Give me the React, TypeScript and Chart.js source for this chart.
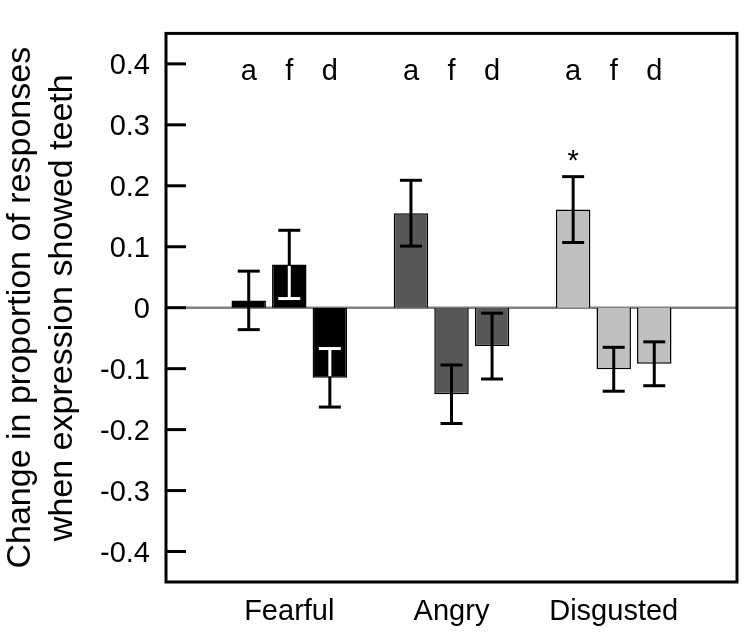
import React, { useEffect, useRef } from 'react';
import { Chart, registerables } from 'chart.js';

Chart.register(...registerables);

// ---- data ----
const categories = ['Fearful', 'Angry', 'Disgusted'];
const categoryX = [1, 2, 3];
const seriesKeys = ['a', 'f', 'd'];
const aValues = [0.012, 0.155, 0.161];
const aErrors = [0.048, 0.054, 0.054];
const fValues = [0.071, -0.142, -0.101];
const fErrors = [0.056, 0.048, 0.036];
const dValues = [-0.115, -0.063, -0.092];
const dErrors = [0.048, 0.054, 0.036];
const aMarks = ['', '', '*'];
const yTicks = [0.4, 0.3, 0.2, 0.1, 0, -0.1, -0.2, -0.3, -0.4];
const yTickLabels = ['0.4', '0.3', '0.2', '0.1', '0', '-0.1', '-0.2', '-0.3', '-0.4'];
const yTitle = ['Change in proportion of responses', 'when expression showed teeth'];

// ---- style ----
const barColors = ['#000000', '#575757', '#c0c0c0'];
const FONT = "'Liberation Sans', Arial, Helvetica, sans-serif";
const FONT_SIZE = 29;
const TITLE_SIZE = 34;

export default function App() {
  const ref = useRef<HTMLCanvasElement>(null);

  useEffect(() => {
    document.body.style.margin = '0';
    const canvas = ref.current;
    if (!canvas) return;
    const valueSets = [aValues, fValues, dValues];
    const errorSets = [aErrors, fErrors, dErrors];

    const datasets = seriesKeys.map((k, i) => ({
      label: k,
      data: categoryX.map((x, j) => ({ x, y: valueSets[i][j] })),
      backgroundColor: barColors,
      borderColor: '#000000',
      borderWidth: 1.5,
      categoryPercentage: 0.75,
      barPercentage: 0.85,
    }));

    const overlay = {
      id: 'overlay',
      beforeDatasetsDraw(chart: any) {
        const { ctx, chartArea: a, scales } = chart;
        const y0 = scales.y.getPixelForValue(0);
        ctx.save();
        ctx.strokeStyle = '#808080';
        ctx.lineWidth = 2.5;
        ctx.beginPath();
        ctx.moveTo(a.left, y0);
        ctx.lineTo(a.right, y0);
        ctx.stroke();
        ctx.restore();
      },
      afterDatasetsDraw(chart: any) {
        const { ctx, chartArea: a, scales } = chart;
        const y = scales.y;
        const capHalf = 11;
        ctx.save();
        ctx.lineWidth = 3;
        ctx.lineCap = 'butt';
        const seg = (x1: number, y1: number, x2: number, y2: number, color: string) => {
          ctx.strokeStyle = color;
          ctx.beginPath();
          ctx.moveTo(x1, y1);
          ctx.lineTo(x2, y2);
          ctx.stroke();
        };
        seriesKeys.forEach((_k, i) => {
          const meta = chart.getDatasetMeta(i);
          meta.data.forEach((el: any, j: number) => {
            const v = valueSets[i][j];
            const e = errorSets[i][j];
            const x = el.x;
            const yHi = y.getPixelForValue(v + e);
            const yLo = y.getPixelForValue(v - e);
            const yV = y.getPixelForValue(v);
            const yZ = y.getPixelForValue(0);
            seg(x, yHi, x, yLo, '#000');
            seg(x - capHalf, yHi, x + capHalf, yHi, '#000');
            seg(x - capHalf, yLo, x + capHalf, yLo, '#000');
            if (barColors[j] === '#000000') {
              const top = Math.min(yV, yZ);
              const bot = Math.max(yV, yZ);
              [yHi, yLo].forEach((cy) => {
                if (cy > top + 2 && cy < bot - 2) {
                  const edge = yV < yZ ? yV + 1.5 : yV - 1.5;
                  seg(x, cy, x, edge, '#ffffff');
                  seg(x - capHalf, cy, x + capHalf, cy, '#ffffff');
                }
              });
            }
          });
        });

        // letters above each bar
        ctx.fillStyle = '#000';
        ctx.font = `${FONT_SIZE}px ${FONT}`;
        ctx.textAlign = 'center';
        ctx.textBaseline = 'alphabetic';
        const letterY = y.getPixelForValue(0.373);
        seriesKeys.forEach((k, i) => {
          const meta = chart.getDatasetMeta(i);
          meta.data.forEach((el: any) => {
            ctx.fillText(k, el.x, letterY);
          });
        });
        // significance marks
        const metaA = chart.getDatasetMeta(0);
        aMarks.forEach((m, j) => {
          if (!m) return;
          const el = metaA.data[j];
          const yHi = y.getPixelForValue(aValues[j] + aErrors[j]);
          ctx.fillText(m, el.x, yHi - 6.5);
        });

        // frame
        ctx.strokeStyle = '#000';
        ctx.lineWidth = 3;
        ctx.strokeRect(a.left, a.top, a.right - a.left, a.bottom - a.top);
        // inward ticks
        yTicks.forEach((t) => {
          const py = y.getPixelForValue(t);
          seg(a.left, py, a.left + 20, py, '#000');
        });
        ctx.restore();
      },
    };

    const chart = new Chart(canvas, {
      type: 'bar',
      data: { datasets } as any,
      options: {
        animation: false,
        responsive: false,
        devicePixelRatio: 1,
        layout: { padding: { top: 13, right: 13, left: 0, bottom: 0 } },
        plugins: { legend: { display: false }, tooltip: { enabled: false } },
        scales: {
          x: {
            type: 'linear',
            min: 0.24,
            max: 3.76,
            offset: false,
            grid: { display: false, drawTicks: false },
            border: { display: false },
            afterBuildTicks: (s: any) => {
              s.ticks = categoryX.map((v) => ({ value: v }));
            },
            afterFit: (s: any) => {
              s.height = 58;
            },
            ticks: {
              autoSkip: false,
              maxRotation: 0,
              padding: 13,
              color: '#000',
              font: { size: FONT_SIZE, family: FONT },
              callback: (v: any) => {
                const idx = categoryX.indexOf(Number(v));
                return idx >= 0 ? categories[idx] : '';
              },
            },
          },
          y: {
            type: 'linear',
            min: -0.45,
            max: 0.45,
            grid: { display: false, drawTicks: false },
            border: { display: false },
            afterBuildTicks: (s: any) => {
              s.ticks = yTicks.map((v) => ({ value: v }));
            },
            afterFit: (s: any) => {
              s.width = 166;
            },
            ticks: {
              padding: 16,
              color: '#000',
              labelOffset: 2,
              font: { size: FONT_SIZE, family: FONT },
              callback: (v: any) => {
                const idx = yTicks.findIndex((t) => Math.abs(t - Number(v)) < 1e-9);
                return idx >= 0 ? yTickLabels[idx] : '';
              },
            },
            title: {
              display: true,
              text: yTitle,
              color: '#000',
              font: { size: TITLE_SIZE, family: FONT, lineHeight: 1.235 },
              padding: { top: 0, bottom: 0 },
            },
          },
        },
      } as any,
      plugins: [overlay],
    });
    return () => chart.destroy();
  }, []);

  return <canvas ref={ref} width={750} height={640} style={{ display: 'block' }} />;
}
